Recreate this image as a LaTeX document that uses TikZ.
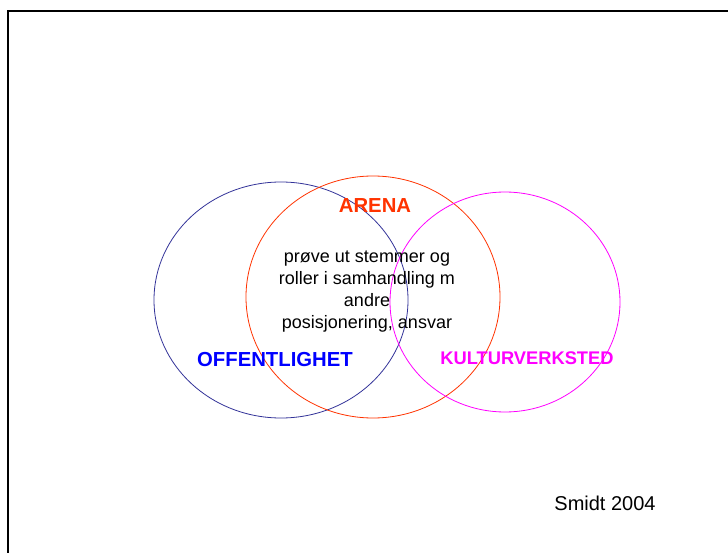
\documentclass[tikz,border=0pt]{standalone}
\usepackage{fontspec}
\setmainfont{Liberation Sans}
\begin{document}
\begin{tikzpicture}[x=1pt,y=-1pt,
  ring/.style={line width=0.8pt},
  title/.style={font=\fontsize{20.3}{24}\selectfont\bfseries, inner sep=0pt},
  body/.style={font=\fontsize{18}{21.7}\selectfont, align=center, inner sep=0pt}]
\useasboundingbox[fill=white] (0,0) rectangle (728,553);
\draw[line width=2pt] (8,553) -- (8,11) -- (728,11);
\definecolor{navyc}{RGB}{51,51,153}
\definecolor{redc}{RGB}{255,51,0}
\definecolor{magc}{RGB}{255,0,255}
\definecolor{bluec}{RGB}{0,0,255}
\draw[ring, navyc] (281,300) ellipse [x radius=127, y radius=118];
\draw[ring, redc] (373,297) ellipse [x radius=127, y radius=121];
\draw[ring, magc] (505,302) ellipse [x radius=115, y radius=110];
\node[title, text=redc] (arena) at (375,206) {ARENA};
\node[body] (desc) at (367,291.5) {prøve ut stemmer og\\roller i samhandling m\\andre\\posisjonering, ansvar};
\node[title, text=bluec] (off) at (275,360) {OFFENTLIGHET};
\node[title, text=magc, font=\fontsize{18.3}{22}\selectfont\bfseries] (kult) at (527,358) {KULTURVERKSTED};
\node[font=\fontsize{20}{24}\selectfont, inner sep=0pt] (smidt) at (605,503) {Smidt 2004};
\end{tikzpicture}
\end{document}
